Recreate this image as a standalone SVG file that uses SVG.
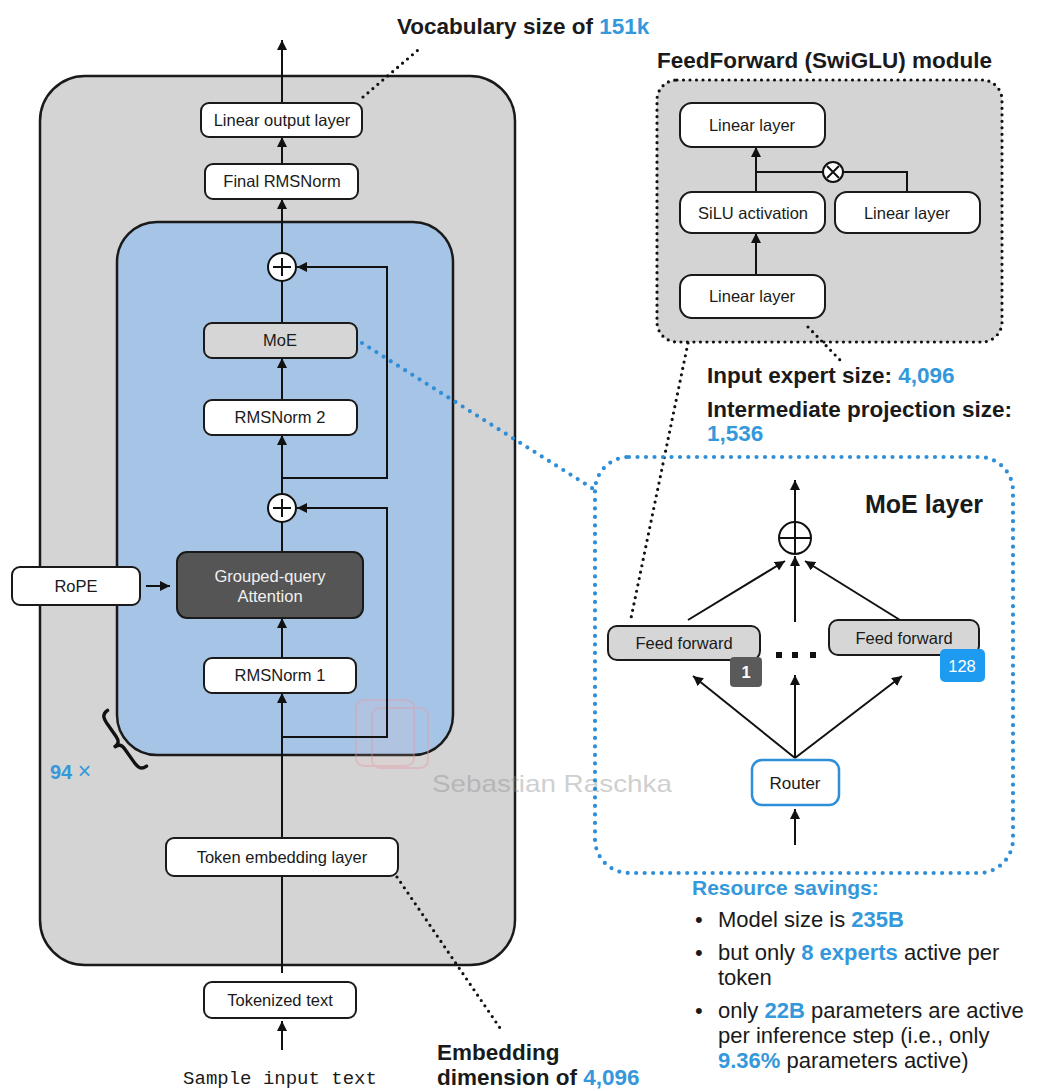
<svg xmlns="http://www.w3.org/2000/svg" width="1037" height="1091" viewBox="0 0 1037 1091">
  <defs>
    <marker id="arrow" viewBox="0 0 10 10" refX="10" refY="5" markerUnits="userSpaceOnUse" markerWidth="10" markerHeight="10" orient="auto">
      <path d="M0,0 L10,5 L0,10 z" fill="#111"/>
    </marker>
    <style>
      .box { fill: #fff; stroke: #1a1a1a; stroke-width: 2; }
      .gbox { fill: #d6d6d6; stroke: #1a1a1a; stroke-width: 2; }
      .lbl { font-family: "Liberation Sans", Arial, sans-serif; font-size: 16.5px; fill: #1a1a1a; text-anchor: middle; }
      .note { font-family: "Liberation Sans", Arial, sans-serif; font-size: 22.5px; font-weight: bold; fill: #1a1a1a; }
      .body { font-family: "Liberation Sans", Arial, sans-serif; font-size: 22px; fill: #1a1a1a; }
      .blue { fill: #3498db; }
      .hl { fill: #3498db; font-weight: bold; }
      .wire { fill: none; stroke: #111; stroke-width: 2; }
      .arr { fill: none; stroke: #111; stroke-width: 2; marker-end: url(#arrow); }
      .dots { fill: none; stroke: #111; stroke-width: 3.2; stroke-linecap: round; stroke-dasharray: 0 6.5; }
      .bdots { fill: none; stroke: #2e8fd8; stroke-width: 4.2; stroke-linecap: round; stroke-dasharray: 0 8.5; }
      .plus { fill: #fff; stroke: #111; stroke-width: 2; }
    </style>
  </defs>

  <rect width="1037" height="1091" fill="#fff"/>

  <!-- outer model frame -->
  <g id="model-frame">
    <rect x="40" y="76" width="475" height="889" rx="45" fill="#d4d4d4" stroke="#1a1a1a" stroke-width="2.5"/>
  </g>

  <!-- repeated transformer block -->
  <g id="transformer-block">
    <rect x="117" y="222" width="336" height="533" rx="40" fill="#a6c4e5" stroke="#1a1a1a" stroke-width="2.5"/>
  </g>

  <!-- SwiGLU feed-forward module frame -->
  <g id="swiglu-module">
    <text class="note" x="657" y="68">FeedForward (SwiGLU) module</text>
    <rect x="657" y="80" width="345" height="262" rx="20" fill="#d4d4d4" stroke="#111" stroke-width="3.2" stroke-linecap="round" stroke-dasharray="0 6.5"/>
  </g>

  <!-- watermark -->
  <g id="watermark" opacity="0.4">
    <rect x="356" y="700" width="58" height="66" rx="8" fill="#f3c9cf" fill-opacity="0.35" stroke="#e79aa6" stroke-width="2"/>
    <rect x="372" y="708" width="56" height="60" rx="8" fill="none" stroke="#e79aa6" stroke-width="2"/>
    <text x="432" y="792" font-family="Liberation Sans, Arial, sans-serif" font-size="24" fill="#8a8a8a" textLength="240" lengthAdjust="spacingAndGlyphs">Sebastian Raschka</text>
  </g>

  <!-- connectors -->
  <g id="connectors">
    <!-- main stack -->
    <line class="arr" x1="282" y1="103" x2="282" y2="40"/>
    <line class="arr" x1="282" y1="164" x2="282" y2="137"/>
    <line class="arr" x1="282" y1="253" x2="282" y2="199"/>
    <line class="wire" x1="282" y1="323" x2="282" y2="281"/>
    <line class="arr" x1="282" y1="400" x2="282" y2="358"/>
    <line class="arr" x1="282" y1="494" x2="282" y2="435"/>
    <line class="wire" x1="282" y1="552" x2="282" y2="522"/>
    <line class="arr" x1="282" y1="658" x2="282" y2="618"/>
    <line class="arr" x1="282" y1="838" x2="282" y2="693"/>
    <line class="wire" x1="282" y1="973" x2="282" y2="876"/>
    <line class="arr" x1="282" y1="1050" x2="282" y2="1021"/>
    <!-- residual shortcuts -->
    <path class="arr" d="M282,478 H387 V267 H297"/>
    <path class="arr" d="M282,737 H387 V508 H297"/>
    <!-- RoPE into attention -->
    <line class="arr" x1="146" y1="586" x2="170" y2="586"/>

    <!-- SwiGLU internals -->
    <line class="arr" x1="756" y1="275" x2="756" y2="233"/>
    <line class="arr" x1="756" y1="192" x2="756" y2="147"/>
    <path class="wire" d="M756,172 H823"/>
    <path class="wire" d="M843,172 H907 V192"/>

    <!-- MoE layer internals -->
    <line class="arr" x1="795" y1="522" x2="795" y2="480"/>
    <line class="arr" x1="688" y1="620" x2="785" y2="561"/>
    <line class="arr" x1="795" y1="622" x2="795" y2="556"/>
    <line class="arr" x1="900" y1="620" x2="805" y2="561"/>
    <line class="arr" x1="795" y1="758" x2="693" y2="676"/>
    <line class="arr" x1="795" y1="758" x2="795" y2="675"/>
    <line class="arr" x1="795" y1="758" x2="902" y2="676"/>
    <line class="arr" x1="795" y1="845" x2="795" y2="809"/>

    <!-- annotation leaders -->
    <line class="dots" x1="363" y1="97" x2="418" y2="50"/>
    <line class="dots" x1="397" y1="877" x2="500" y2="1028"/>
    <line class="dots" x1="808" y1="327" x2="840" y2="360"/>
    <line class="dots" x1="688" y1="343" x2="630" y2="623"/>
    <line class="bdots" x1="362" y1="343" x2="595" y2="490"/>
  </g>

  <!-- left column nodes -->
  <g id="linear-output">
    <rect class="box" x="201" y="103" width="161" height="34" rx="8"/>
    <text class="lbl" x="282" y="126">Linear output layer</text>
  </g>
  <g id="final-rmsnorm">
    <rect class="box" x="205" y="164" width="153" height="35" rx="8"/>
    <text class="lbl" x="282" y="187">Final RMSNorm</text>
  </g>
  <g id="add-2">
    <circle class="plus" cx="282" cy="267" r="14"/>
    <path class="wire" d="M273,267 H291 M282,258 V276"/>
  </g>
  <g id="moe">
    <rect class="gbox" x="204" y="323" width="153" height="35" rx="8"/>
    <text class="lbl" x="280" y="346">MoE</text>
  </g>
  <g id="rmsnorm-2">
    <rect class="box" x="204" y="400" width="153" height="35" rx="8"/>
    <text class="lbl" x="280" y="423">RMSNorm 2</text>
  </g>
  <g id="add-1">
    <circle class="plus" cx="282" cy="508" r="14"/>
    <path class="wire" d="M273,508 H291 M282,499 V517"/>
  </g>
  <g id="attention">
    <rect x="177" y="552" width="186" height="66" rx="10" fill="#555" stroke="#1a1a1a" stroke-width="2"/>
    <text class="lbl" x="270" y="582" style="fill:#f0f0f0">Grouped-query</text>
    <text class="lbl" x="270" y="602" style="fill:#f0f0f0">Attention</text>
  </g>
  <g id="rope">
    <rect class="box" x="12" y="567" width="128" height="38" rx="8"/>
    <text class="lbl" x="76" y="592">RoPE</text>
  </g>
  <g id="rmsnorm-1">
    <rect class="box" x="204" y="658" width="152" height="35" rx="8"/>
    <text class="lbl" x="280" y="681">RMSNorm 1</text>
  </g>
  <g id="repeat-count">
    <text x="50" y="779" font-family="Liberation Sans, Arial, sans-serif" font-size="20" class="blue"><tspan font-weight="bold">94</tspan> <tspan font-size="23">×</tspan></text>
    <path d="M8,0 C1,0 0,4 0,12 L0,26 C0,32 -2,34 -8,34 C-2,34 0,36 0,42 L0,56 C0,64 1,68 8,68" transform="translate(101,715) rotate(-35)" fill="none" stroke="#111" stroke-width="3.4" stroke-linecap="round"/>
  </g>
  <g id="token-embedding">
    <rect class="box" x="166" y="838" width="232" height="38" rx="8"/>
    <text class="lbl" x="282" y="863">Token embedding layer</text>
  </g>
  <g id="tokenized-text">
    <rect class="box" x="204" y="982" width="152" height="36" rx="8"/>
    <text class="lbl" x="280" y="1006">Tokenized text</text>
  </g>
  <g id="input-text">
    <text x="280" y="1084" font-family="Liberation Mono, Courier New, monospace" font-size="19" fill="#1a1a1a" text-anchor="middle">Sample input text</text>
  </g>

  <!-- annotations -->
  <g id="vocab-note">
    <text class="note" x="397" y="34">Vocabulary size of <tspan class="blue">151k</tspan></text>
  </g>
  <g id="embedding-note">
    <text class="note" x="437" y="1060">Embedding</text>
    <text class="note" x="437" y="1085">dimension of <tspan class="blue">4,096</tspan></text>
  </g>

  <!-- SwiGLU nodes -->
  <g id="ff-linear-out">
    <rect class="box" x="680" y="103" width="145" height="44" rx="12"/>
    <text class="lbl" x="752" y="131">Linear layer</text>
  </g>
  <g id="ff-silu">
    <rect class="box" x="680" y="192" width="145" height="41" rx="12"/>
    <text class="lbl" x="753" y="219">SiLU activation</text>
  </g>
  <g id="ff-linear-gate">
    <rect class="box" x="835" y="192" width="145" height="41" rx="12"/>
    <text class="lbl" x="907" y="219">Linear layer</text>
  </g>
  <g id="ff-linear-in">
    <rect class="box" x="680" y="275" width="145" height="43" rx="12"/>
    <text class="lbl" x="752" y="302">Linear layer</text>
  </g>
  <g id="ff-multiply">
    <circle class="plus" cx="833" cy="172" r="10"/>
    <path class="wire" d="M827,166 L839,178 M839,166 L827,178" stroke-width="1.6"/>
  </g>
  <g id="expert-size-note">
    <text class="note" x="707" y="383">Input expert size: <tspan class="blue">4,096</tspan></text>
    <text class="note" x="707" y="417">Intermediate projection size:</text>
    <text class="note blue" x="707" y="441">1,536</text>
  </g>

  <!-- MoE layer detail -->
  <g id="moe-layer">
    <rect class="bdots" x="595" y="457" width="418" height="416" rx="34"/>
    <text x="865" y="513" font-family="Liberation Sans, Arial, sans-serif" font-size="25" font-weight="bold" fill="#1a1a1a">MoE layer</text>
  </g>
  <g id="moe-sum">
    <circle class="plus" cx="795" cy="538" r="16"/>
    <path class="wire" d="M779,538 H811 M795,522 V554"/>
  </g>
  <g id="expert-1">
    <rect class="gbox" x="608" y="626" width="152" height="34" rx="9"/>
    <text class="lbl" x="684" y="649">Feed forward</text>
    <rect x="730" y="657" width="32" height="30" rx="4" fill="#5a5a5a"/>
    <text class="lbl" x="746" y="678" style="fill:#fff;font-weight:bold">1</text>
  </g>
  <g id="expert-ellipsis" fill="#111">
    <rect x="776" y="652" width="6" height="6"/>
    <rect x="792" y="652" width="6" height="6"/>
    <rect x="810" y="652" width="6" height="6"/>
  </g>
  <g id="expert-128">
    <rect class="gbox" x="829" y="620" width="150" height="35" rx="9"/>
    <text class="lbl" x="904" y="644">Feed forward</text>
    <rect x="940" y="649" width="45" height="33" rx="5" fill="#1d9bf0"/>
    <text class="lbl" x="962" y="672" style="fill:#fff">128</text>
  </g>
  <g id="router">
    <rect x="752" y="760" width="87" height="45" rx="10" fill="#fff" stroke="#2e8fd8" stroke-width="2.5"/>
    <text class="lbl" x="795" y="789" style="font-size:17px">Router</text>
  </g>

  <!-- resource savings list -->
  <g id="savings-note">
    <text x="692" y="895" font-family="Liberation Sans, Arial, sans-serif" font-size="21" font-weight="bold" class="blue">Resource savings:</text>
    <text class="body" x="695" y="927">•</text>
    <text class="body" x="718" y="927">Model size is <tspan class="hl">235B</tspan></text>
    <text class="body" x="695" y="960">•</text>
    <text class="body" x="718" y="960">but only <tspan class="hl">8 experts</tspan> active per</text>
    <text class="body" x="718" y="985">token</text>
    <text class="body" x="695" y="1018">•</text>
    <text class="body" x="718" y="1018">only <tspan class="hl">22B</tspan> parameters are active</text>
    <text class="body" x="718" y="1043">per inference step (i.e., only</text>
    <text class="body" x="718" y="1068"><tspan class="hl">9.36%</tspan> parameters active)</text>
  </g>
</svg>
